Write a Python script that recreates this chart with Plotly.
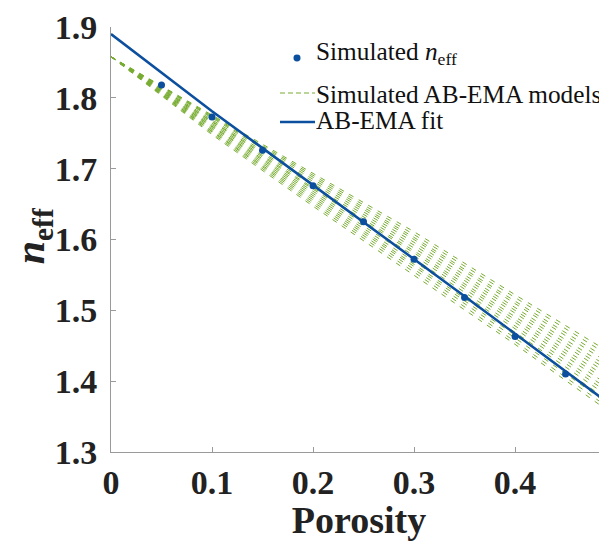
import plotly.graph_objects as go

# ---- data ----
porosity_sim = [0.05, 0.10, 0.15, 0.20, 0.25, 0.30, 0.35, 0.40, 0.45]
neff_sim = [1.818, 1.773, 1.726, 1.676, 1.625, 1.572, 1.518, 1.463, 1.410]

porosity_fit = [0.0, 0.05, 0.10, 0.15, 0.20, 0.25, 0.30, 0.35, 0.40, 0.45, 0.50]
neff_fit = [1.890, 1.835, 1.781, 1.729, 1.677, 1.625, 1.573, 1.520, 1.467, 1.414, 1.361]

porosity_models = [0.0, 0.1, 0.2, 0.3, 0.4, 0.5]
ema_models = [
    [1.858, 1.776, 1.694, 1.611, 1.522, 1.435],
    [1.858, 1.774, 1.691, 1.607, 1.518, 1.430],
    [1.858, 1.773, 1.688, 1.603, 1.513, 1.424],
    [1.858, 1.771, 1.685, 1.600, 1.509, 1.419],
    [1.858, 1.769, 1.682, 1.596, 1.504, 1.413],
    [1.858, 1.767, 1.679, 1.592, 1.500, 1.408],
    [1.858, 1.766, 1.676, 1.588, 1.496, 1.403],
    [1.858, 1.764, 1.673, 1.584, 1.491, 1.397],
    [1.858, 1.762, 1.671, 1.581, 1.487, 1.392],
    [1.858, 1.760, 1.668, 1.577, 1.483, 1.387],
    [1.858, 1.759, 1.665, 1.573, 1.478, 1.381],
    [1.858, 1.757, 1.662, 1.569, 1.474, 1.376],
    [1.858, 1.755, 1.659, 1.565, 1.469, 1.371],
    [1.858, 1.753, 1.656, 1.562, 1.465, 1.365],
    [1.858, 1.752, 1.653, 1.558, 1.461, 1.360],
    [1.858, 1.750, 1.650, 1.554, 1.456, 1.355],
    [1.858, 1.748, 1.647, 1.550, 1.452, 1.350],
]

x_ticks = [0, 0.1, 0.2, 0.3, 0.4]
x_ticktext = ["0", "0.1", "0.2", "0.3", "0.4"]
y_ticks = [1.3, 1.4, 1.5, 1.6, 1.7, 1.8, 1.9]
y_ticktext = ["1.3", "1.4", "1.5", "1.6", "1.7", "1.8", "1.9"]

legend_labels = ["Simulated <i>n</i><sub>eff</sub>", "Simulated AB-EMA models", "AB-EMA fit"]
x_title = "<b>Porosity</b>"
y_title = "<b><i>n</i><sub>eff</sub></b>"

GREEN = "#77AC30"
BLUE = "#0B4F9E"
AXIS = "#9a9a9a"
TEXT = "#222222"
FONT = "Times New Roman, Liberation Serif, serif"
DASH = "5px,6px"

fig = go.Figure()

for vals in ema_models:
    fig.add_trace(go.Scatter(
        x=porosity_models, y=vals, mode="lines",
        line=dict(color=GREEN, width=1, dash=DASH),
        name=legend_labels[1], showlegend=False,
    ))

fig.add_trace(go.Scatter(
    x=porosity_fit, y=neff_fit, mode="lines",
    line=dict(color=BLUE, width=2.5),
    name=legend_labels[2], showlegend=False,
))

fig.add_trace(go.Scatter(
    x=porosity_sim, y=neff_sim, mode="markers",
    marker=dict(color=BLUE, size=7),
    name=legend_labels[0], showlegend=False,
))

# ---- legend drawn by hand (paper coordinates) ----
leg_text_x = 0.4093
leg_rows_y = [0.9388, 0.8423, 0.7812]
sample_x0, sample_x1 = 0.3407, 0.4113
for lab, yy in zip(legend_labels, leg_rows_y):
    fig.add_annotation(
        x=leg_text_x, y=yy, xref="paper", yref="paper",
        xanchor="left", yanchor="middle", showarrow=False,
        text=lab, font=dict(family=FONT, size=25.3, color="#111111"),
    )
dot_x, dot_y = 0.375, 0.9271
fig.add_shape(type="circle", xref="paper", yref="paper",
              x0=dot_x - 0.0071, x1=dot_x + 0.0071,
              y0=dot_y - 0.0082, y1=dot_y + 0.0082,
              fillcolor=BLUE, line=dict(width=0))
fig.add_shape(type="line", xref="paper", yref="paper",
              x0=sample_x0, x1=sample_x1, y0=0.8447, y1=0.8447,
              line=dict(color=GREEN, width=1, dash="5px,3px"))
fig.add_shape(type="line", xref="paper", yref="paper",
              x0=sample_x0, x1=sample_x1, y0=0.7765, y1=0.7765,
              line=dict(color=BLUE, width=2.5))

# y-axis title placed as a rotated annotation
fig.add_annotation(
    x=-0.158, y=0.509, xref="paper", yref="paper",
    xanchor="center", yanchor="middle", showarrow=False, textangle=-90,
    text=y_title, font=dict(family=FONT, size=42, color=TEXT),
)

# the page body has an 8px margin, so the figure is sized 8px smaller
fig.update_layout(
    width=599, height=533,
    margin=dict(l=103, r=0, t=19, b=89),
    paper_bgcolor="white", plot_bgcolor="white",
    font=dict(family=FONT, color=TEXT),
    showlegend=False,
    xaxis=dict(
        range=[0, 0.491], tickvals=x_ticks, ticktext=x_ticktext,
        showline=True, linecolor=AXIS, linewidth=1,
        ticks="inside", ticklen=5, tickcolor=AXIS,
        showgrid=False, zeroline=False, automargin=False,
        tickfont=dict(family=FONT, size=34, color=TEXT, weight="bold"),
        ticklabelstandoff=0,
        title=dict(text=x_title, font=dict(family=FONT, size=38, color=TEXT), standoff=4),
    ),
    yaxis=dict(
        range=[1.3, 1.9], tickvals=y_ticks, ticktext=y_ticktext,
        showline=True, linecolor=AXIS, linewidth=1,
        ticks="inside", ticklen=5, tickcolor=AXIS,
        showgrid=False, zeroline=False, automargin=False,
        tickfont=dict(family=FONT, size=34, color=TEXT, weight="bold"),
        ticklabelstandoff=6,
    ),
)

fig.write_html("out.html")
